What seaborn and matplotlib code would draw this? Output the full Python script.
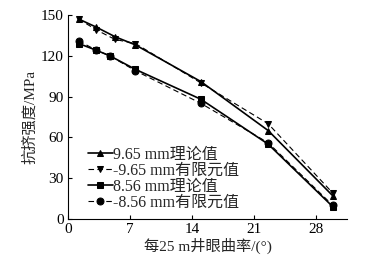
import pandas as pd
import matplotlib
matplotlib.use("Agg")
import matplotlib.pyplot as plt
import seaborn as sns

# 每25 m井眼曲率 (°)
curv = [1.2, 3.2, 5.3, 7.6, 15.0, 22.6, 29.9]
curv_856 = [1.2, 3.2, 4.7, 7.6, 15.0, 22.6, 29.9]

# 抗挤强度 (MPa)
theory_965 = [147, 141, 134, 128, 101, 65, 17]
fem_965 = [147, 139, 132, 129, 100, 70, 19]
theory_856 = [129, 124, 120, 110, 88, 55, 9]
fem_856 = [131, 124, 120, 109, 85, 56, 10]

labels = ["9.65 mm理论值", "-9.65 mm有限元值", "8.56 mm理论值", "-8.56 mm有限元值"]

sns.set_theme(style="ticks")
plt.rcParams['font.family'] = ['Liberation Serif', 'Noto Sans CJK SC']
plt.rcParams['axes.unicode_minus'] = False

fig = plt.figure(figsize=(3.66, 2.67), dpi=100)
ax = fig.add_axes([0.186, 0.18, 0.762, 0.764])

series = [
    (curv, theory_965, "^", "-", 1.2),
    (curv, fem_965, "v", (0, (5, 3)), 0.8),
    (curv_856, theory_856, "s", "-", 1.2),
    (curv_856, fem_856, "o", (0, (5, 3)), 0.8),
]
for (xs, ys, mk, ls, lw), lab in zip(series, labels):
    sns.lineplot(x=xs, y=ys, ax=ax, color="black", marker=mk, markersize=5,
                 markeredgecolor="black", linestyle=ls, linewidth=lw, label=lab)

ax.set_xlim(0, 31.5)
ax.set_ylim(0, 150)
ax.set_xticks([0, 7, 14, 21, 28])
ax.set_yticks([0, 30, 60, 90, 120, 150])
ax.tick_params(direction="in", length=3, width=0.8, labelsize=11, colors="black", pad=3)
for s in ["top", "right"]:
    ax.spines[s].set_visible(False)
for s in ["left", "bottom"]:
    ax.spines[s].set_linewidth(0.8)
    ax.spines[s].set_color("black")

ax.set_xlabel("每25 m井眼曲率/(°)", fontsize=11, labelpad=1)
ax.set_ylabel("抗挤强度/MPa", fontsize=11, labelpad=3)

ax.legend(loc="lower left", bbox_to_anchor=(0.03, -0.015), frameon=False, fontsize=11.5,
          handlelength=1.6, handletextpad=0.0, labelspacing=0.0, borderpad=0.2)

fig.savefig("out.png", dpi=100)
